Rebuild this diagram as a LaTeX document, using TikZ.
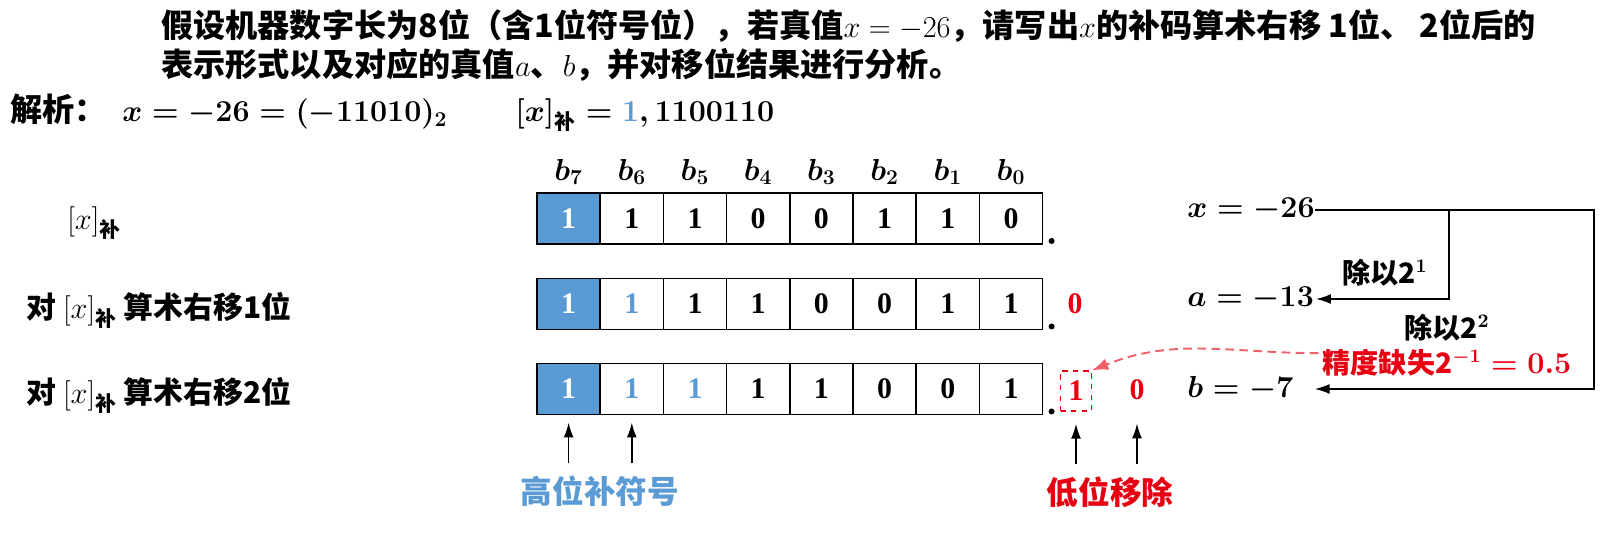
\documentclass[tikz,border=0pt]{standalone}
\usepackage{fontspec}
\usepackage{amsmath}
\newfontfamily\cjk{Noto Sans CJK SC}
\newfontfamily\cifra{Liberation Serif}
\usetikzlibrary{arrows.meta,positioning,calc}
\definecolor{AzulSigno}{RGB}{91,155,213}
\definecolor{RojoMarca}{RGB}{230,0,18}
\definecolor{RojoTenue}{RGB}{240,96,106}
\newcommand{\xbu}{[x]_{\text{\cjk\bfseries 补}}}
\tikzset{
  enunbox/.style={anchor=base west, inner sep=0pt, font=\cjk\bfseries\fontsize{18.3}{22}\selectfont},
  rotulobox/.style={anchor=base west, inner sep=0pt, font=\cjk\bfseries\fontsize{17}{20}\selectfont},
  celdabox/.style={draw, line width=0.9pt, minimum width=1.264cm, minimum height=1.02cm,
    inner sep=0pt, outer sep=0pt, font=\cifra\bfseries\fontsize{17}{18}\selectfont},
  signobox/.style={celdabox, fill=AzulSigno, text=white},
  extbox/.style={celdabox, text=AzulSigno},
  bitlabel/.style={inner sep=0pt, font=\boldmath\fontsize{17}{20}\selectfont},
  valorbox/.style={anchor=west, inner sep=0pt, font=\boldmath\fontsize{17}{20}\selectfont},
  notabox/.style={inner sep=0pt, font=\cjk\bfseries\boldmath\fontsize{16}{19}\selectfont},
  avisobox/.style={inner sep=0pt, font=\cjk\bfseries\fontsize{18}{22}\selectfont},
  movbox/.style={inner sep=0pt, text=RojoMarca, font=\cifra\bfseries\fontsize{17}{18}\selectfont},
  puntobox/.style={circle, fill, inner sep=0pt, minimum size=0.12cm},
  flecharr/.style={-{Latex[length=3mm, width=2mm]}, line width=1pt},
  perdidaarr/.style={-{Latex[length=3.2mm, width=2.4mm]}, line width=1.1pt, RojoTenue, dash pattern=on 5pt off 3pt},
}
\begin{document}
\begin{tikzpicture}[x=0.02cm, y=-0.02cm]
  \useasboundingbox (0,0) rectangle (1610,533);
  % ---- enunciado y solucion ----
  \node[enunbox] (enun1) at (161,38) {假设机器数字长为8位（含1位符号位），若真值$x=-26$，请写出$x$的补码算术右移 1位、 2位后的};
  \node[enunbox] (enun2) at (161,77) {表示形式以及对应的真值$a$、$b$，并对移位结果进行分析。};
  \node[enunbox] (jiexi) at (10,122) {解析：};
  \node[valorbox, anchor=base west] (sol1) at (122,122) {$x=-26=(-11010)_2$};
  \node[valorbox, anchor=base west] (sol2) at (515,122) {$\xbu=\textcolor{AzulSigno}{1},1100110$};
  % ---- registros ----
  \foreach \f/\yy/\lista in {1/218.5/{1/signobox,1/celdabox,1/celdabox,0/celdabox,0/celdabox,1/celdabox,1/celdabox,0/celdabox},
      2/304/{1/signobox,1/extbox,1/celdabox,1/celdabox,0/celdabox,0/celdabox,1/celdabox,1/celdabox},
      3/389/{1/signobox,1/extbox,1/extbox,1/celdabox,1/celdabox,0/celdabox,0/celdabox,1/celdabox}} {
    \foreach \b/\est [count=\i] in \lista
      \node[\est] (c\f-\i) at ({537+63.2*(\i-0.5)},\yy) {\b};
    \node[puntobox] (p\f) at ($(c\f-8.south east)+(9,-3)$) {};
  }
  \foreach \i [evaluate=\i as \k using int(8-\i)] in {1,...,8}
    \node[bitlabel] (b\k) at ($(c1-\i.north)+(0,-21)$) {$b_{\k}$};
  \node[rotulobox] (fila1) at (67,230) {$\xbu$};
  \node[rotulobox] (fila2) at (26,319) {对 $\xbu$ 算术右移1位};
  \node[rotulobox] (fila3) at (26,404) {对 $\xbu$ 算术右移2位};
  % ---- bits que salen ----
  \node[movbox] (sale2) at (1075,304) {0};
  \node[movbox, draw=RojoMarca, dashed, line width=0.8pt, minimum width=0.62cm, minimum height=0.8cm] (sale3a) at (1076,391) {1};
  \node[movbox] (sale3b) at (1137,390) {0};
  % ---- valores verdaderos ----
  \node[valorbox] (vx) at (1187,210) {$x=-26$};
  \node[valorbox] (va) at (1187,299) {$a=-13$};
  \node[valorbox] (vb) at (1187,389) {$b=-7$};
  \draw[flecharr] (vx.east) -| (1449,0 |- va.east) -- ([xshift=1pt]va.east);
  \draw[flecharr] (vx.east) -| (1594,0 |- vb.east) -- ([xshift=0.42cm]vb.east);
  \node[notabox] (div1) at (1385,273) {除以2$^{1}$};
  \node[notabox] (div2) at (1447,328) {除以2$^{2}$};
  \node[notabox, text=RojoMarca] (perdida) at (1447,363) {精度缺失2$^{-1}=0.5$};
  \draw[perdidaarr] ([shift={(-4,4)}]perdida.north west) to[out=180, in=22] (sale3a.north east);
  % ---- notas inferiores ----
  \node[avisobox, text=AzulSigno] (alto) at (600,491) {高位补符号};
  \node[avisobox, text=RojoMarca] (bajo) at (1110,492) {低位移除};
  \draw[flecharr] ($(alto.north -| c3-1)+(0,-12)$) -- ($(c3-1.south)+(0,8)$);
  \draw[flecharr] ($(alto.north -| c3-2)+(0,-12)$) -- ($(c3-2.south)+(0,8)$);
  \draw[flecharr] ($(bajo.north -| sale3a)+(0,-12)$) -- ($(sale3a.south)+(0,12)$);
  \draw[flecharr] ($(bajo.north -| sale3b)+(0,-12)$) -- ($(sale3b.south)+(0,23)$);
\end{tikzpicture}
\end{document}
